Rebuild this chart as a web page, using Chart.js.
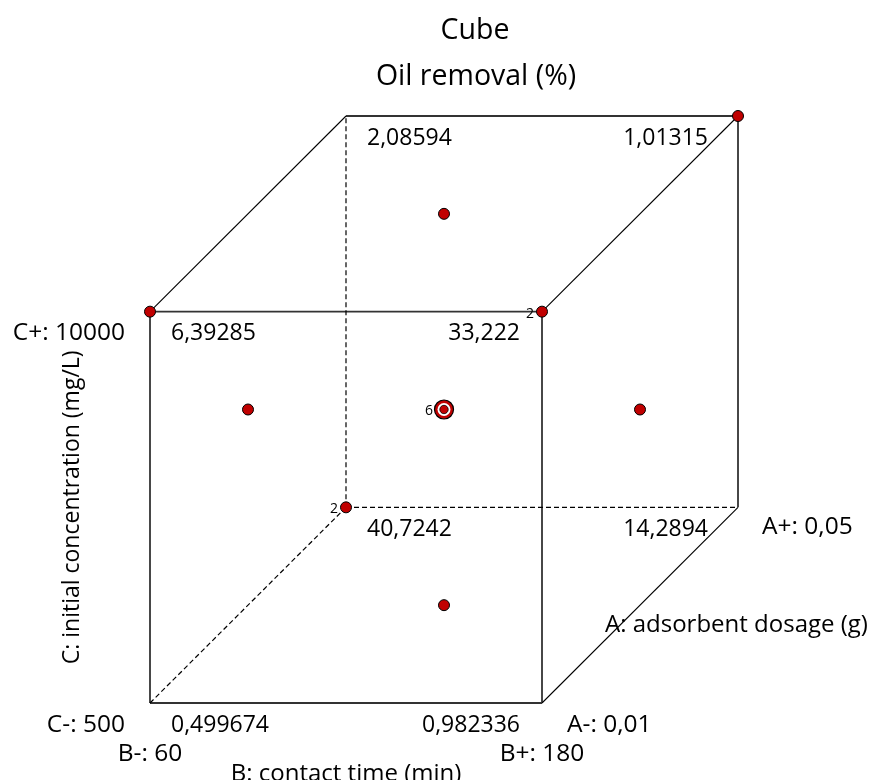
<!DOCTYPE html>
<html>
<head>
<meta charset="utf-8">
<title>Cube - Oil removal (%)</title>
<script src="https://cdn.jsdelivr.net/npm/chart.js@4.4.1/dist/chart.umd.min.js"></script>
<style>
  html, body { margin: 0; padding: 0; background: #ffffff; }
  #contenedor { width: 873px; height: 780px; }
</style>
</head>
<body>
<div id="contenedor"><canvas id="cubo" width="873" height="780"></canvas></div>
<script>
  // Títulos y nombres de los factores
  var tituloGrafico = ['Cube', 'Oil removal (%)'];
  var nombreA = 'A: adsorbent dosage (g)';
  var nombreB = 'B: contact time (min)';
  var nombreC = 'C: initial concentration (mg/L)';

  // Niveles reales de cada factor (bajo, alto)
  var nivelesA = ['0,01', '0,05'];
  var nivelesB = ['60', '180'];
  var nivelesC = ['500', '10000'];

  // Esquinas del cubo en niveles codificados y respuesta predicha en cada una
  var esquinasA = [-1, 1, -1, 1, -1, 1, -1, 1];
  var esquinasB = [-1, -1, 1, 1, -1, -1, 1, 1];
  var esquinasC = [-1, -1, -1, -1, 1, 1, 1, 1];
  var respuestas = ['0,499674', '40,7242', '0,982336', '14,2894', '6,39285', '2,08594', '33,222', '1,01315'];

  // Puntos de diseño (corridas) y número de réplicas de cada uno
  var disenoA = [-1, -1, 1, 1, 0, 0, 0, 0, 0];
  var disenoB = [-1, 1, 1, -1, 0, -1, 1, 0, 0];
  var disenoC = [1, 1, 1, -1, 1, 0, 0, -1, 0];
  var replicas = [1, 2, 1, 2, 1, 1, 1, 1, 6];

  var fuente = '"Open Sans", "Noto Sans", sans-serif';
  var rojo = '#c00000';

  // Proyección oblicua: el factor A da la profundidad
  function proyectar(a, b, c) {
    return { x: b + (a + 1) / 2, y: c + (a + 1) / 2 };
  }

  // Aristas del cubo: pares de esquinas que difieren en un solo factor
  function generarAristas() {
    var aristas = [];
    for (var i = 0; i < 8; i++) {
      for (var j = i + 1; j < 8; j++) {
        var dif = (esquinasA[i] !== esquinasA[j]) + (esquinasB[i] !== esquinasB[j]) + (esquinasC[i] !== esquinasC[j]);
        if (dif !== 1) continue;
        // la esquina trasera inferior izquierda queda oculta
        var oculta = [i, j].some(function (k) {
          return esquinasA[k] === 1 && esquinasB[k] === -1 && esquinasC[k] === -1;
        });
        var diagonal = esquinasA[i] !== esquinasA[j];
        aristas.push({
          data: [proyectar(esquinasA[i], esquinasB[i], esquinasC[i]), proyectar(esquinasA[j], esquinasB[j], esquinasC[j])],
          showLine: true,
          pointRadius: 0,
          borderColor: oculta ? '#000000' : (diagonal ? '#000000' : '#333333'),
          borderWidth: oculta ? 1.2 : (diagonal ? 1.1 : 1.8),
          borderDash: oculta ? [5, 3] : [],
          clip: false,
          order: 10
        });
      }
    }
    return aristas;
  }

  var puntos = [];
  var centro = [];
  for (var i = 0; i < replicas.length; i++) {
    var p = proyectar(disenoA[i], disenoB[i], disenoC[i]);
    p.r = replicas[i];
    if (disenoA[i] === 0 && disenoB[i] === 0 && disenoC[i] === 0) centro.push(p);
    else puntos.push(p);
  }

  var datasets = generarAristas().concat([
    { data: puntos, pointRadius: 5.5, pointBackgroundColor: rojo, pointBorderColor: '#000000', pointBorderWidth: 1, clip: false, order: 1 },
    // punto central con anillos
    { data: centro, pointRadius: 9.5, pointBackgroundColor: rojo, pointBorderColor: '#000000', pointBorderWidth: 1.2, clip: false, order: 4 },
    { data: centro, pointRadius: 6.5, pointBackgroundColor: '#ffffff', pointBorderWidth: 0, clip: false, order: 3 },
    { data: centro, pointRadius: 4.2, pointBackgroundColor: rojo, pointBorderColor: '#000000', pointBorderWidth: 0.8, clip: false, order: 2 }
  ]);

  function texto(ctx, t, x, y, alinear, tam) {
    ctx.font = tam + 'px ' + fuente;
    ctx.textAlign = alinear;
    ctx.textBaseline = 'middle';
    ctx.fillText(t, x, y);
  }

  // Plugin para escribir valores, niveles y nombres de factores
  var etiquetasCubo = {
    id: 'etiquetasCubo',
    afterDraw: function (chart) {
      var ctx = chart.ctx;
      var sx = chart.scales.x, sy = chart.scales.y;
      function px(a, b, c) {
        var p = proyectar(a, b, c);
        return { x: sx.getPixelForValue(p.x), y: sy.getPixelForValue(p.y) };
      }
      ctx.save();
      ctx.fillStyle = '#000000';

      // título
      texto(ctx, tituloGrafico[0], 475, 31, 'center', 28.5);
      texto(ctx, tituloGrafico[1], 476, 77, 'center', 28.5);

      // respuesta en cada esquina
      for (var i = 0; i < 8; i++) {
        var q = px(esquinasA[i], esquinasB[i], esquinasC[i]);
        if (esquinasB[i] < 0) texto(ctx, respuestas[i], q.x + 21, q.y + 22, 'left', 23);
        else texto(ctx, respuestas[i], q.x - (esquinasA[i] > 0 ? 30 : 22), q.y + 22, 'right', 23);
      }

      // niveles de los factores
      var fbi = px(-1, -1, -1), fbd = px(-1, 1, -1), fsi = px(-1, -1, 1), tbd = px(1, 1, -1);
      texto(ctx, 'C+: ' + nivelesC[1], fsi.x - 25, fsi.y + 21, 'right', 24.5);
      texto(ctx, 'C-: ' + nivelesC[0], fbi.x - 25, fbi.y + 22, 'right', 24.5);
      texto(ctx, 'A-: ' + nivelesA[0], fbd.x + 25, fbd.y + 22, 'left', 24.5);
      texto(ctx, 'A+: ' + nivelesA[1], tbd.x + 24, tbd.y + 20, 'left', 24.5);
      texto(ctx, 'B-: ' + nivelesB[0], fbi.x, fbi.y + 51, 'center', 24.5);
      texto(ctx, 'B+: ' + nivelesB[1], fbd.x, fbd.y + 51, 'center', 24.5);

      // nombres de los factores
      var cb = px(-1, 0, -1);
      texto(ctx, nombreB, cb.x, cb.y + 71, 'center', 24);
      var ma = px(0, 1, -1);
      texto(ctx, nombreA, ma.x - 35, ma.y + 20, 'left', 24);
      var mc = px(-1, -1, 0);
      ctx.save();
      ctx.translate(mc.x - 78, mc.y);
      ctx.rotate(-Math.PI / 2);
      texto(ctx, nombreC, 0, 0, 'center', 23);
      ctx.restore();

      // réplicas junto a los puntos de diseño
      puntos.concat(centro).forEach(function (p) {
        if (p.r < 2) return;
        var x = sx.getPixelForValue(p.x), y = sy.getPixelForValue(p.y);
        texto(ctx, String(p.r), x - (p.r > 2 ? 11 : 8), y + 2, 'right', 14);
      });
      ctx.restore();
    }
  };

  new Chart(document.getElementById('cubo').getContext('2d'), {
    type: 'scatter',
    data: { datasets: datasets },
    options: {
      responsive: false,
      animation: false,
      layout: { padding: { left: 150, right: 135, top: 116, bottom: 77 } },
      scales: {
        x: { type: 'linear', min: -1, max: 2, display: false },
        y: { type: 'linear', min: -1, max: 2, display: false }
      },
      plugins: {
        legend: { display: false },
        tooltip: { enabled: false },
        title: { display: false }
      }
    },
    plugins: [etiquetasCubo]
  });
</script>
</body>
</html>
